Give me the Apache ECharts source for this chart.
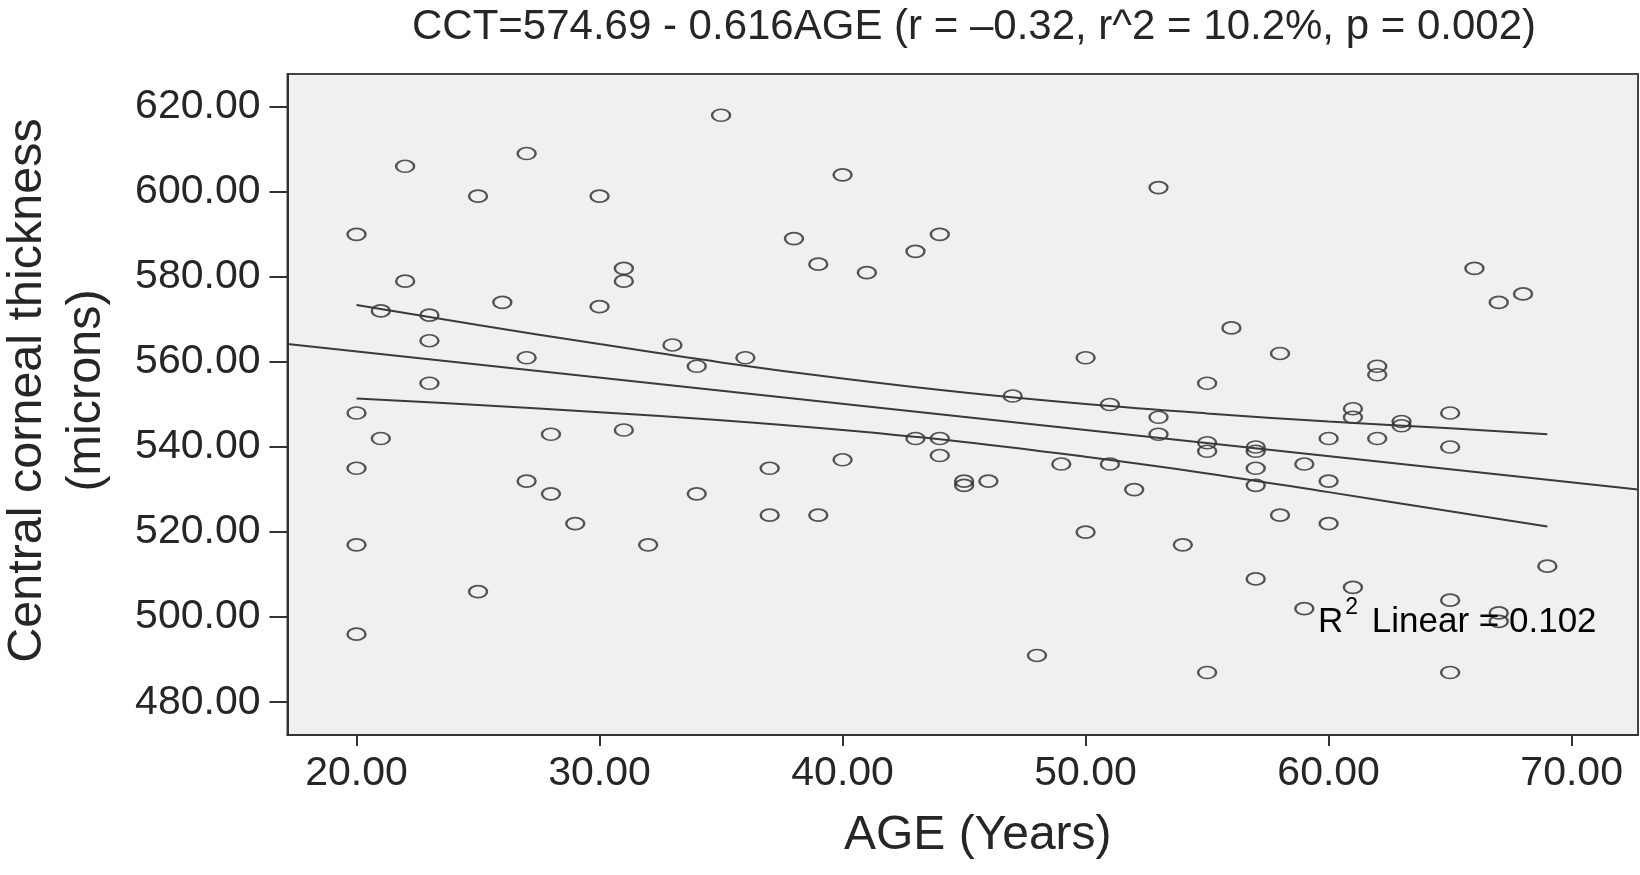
<!DOCTYPE html>
<html>
<head>
<meta charset="utf-8">
<script src="https://cdn.jsdelivr.net/npm/echarts@6/dist/echarts.min.js"></script>
<style>html,body{margin:0;padding:0;background:#fff}#c{width:1640px;height:875px}</style>
</head>
<body>
<div id="c"></div>
<script>
// ---- data ----
const ages = [
  20,20,20,20,20, 21,21, 22,22, 23,23,23, 25,25, 26, 27,27,27, 28,28, 29, 30,30,
  31,31,31, 32, 33, 34,34, 35, 36, 37,37, 38, 39,39, 40,40, 41, 43,43, 44,44,44,
  45,45, 46, 47, 48, 49, 50,50, 51,51, 52, 53,53,53, 54, 55,55,55,55, 56,
  57,57,57,57,57, 58,58, 59,59, 60,60,60, 61,61,61, 62,62,62, 63,63,
  65,65,65,65, 66, 67,67,67, 68, 69
];
const cct = [
  590,548,535,517,496, 572,542, 606,579, 571,565,555, 599,506, 574, 609,561,532, 543,529, 522, 599,573,
  582,579,544, 517, 564, 559,529, 618, 561, 535,524, 589, 583,524, 604,537, 581, 586,542, 590,542,538,
  532,531, 532, 552, 491, 536, 561,520, 550,536, 530, 601,547,543, 517, 555,541,539,487, 568,
  540,539,535,531,509, 562,524, 536,502, 542,532,522, 549,547,507, 559,557,542, 546,545,
  548,540,504,487, 582, 574,501,499, 576, 512
];
const fitX = [17.16, 72.73];
const fitY = [564.2, 530.0];
const bandX = [20, 25, 30, 35, 40, 45, 50, 55, 60, 65, 69];
const bandUpper = [573.4, 568.7, 564.2, 559.9, 556.1, 552.8, 550.1, 547.9, 546.0, 544.4, 543.0];
const bandLower = [551.4, 549.9, 548.2, 546.3, 544.0, 541.2, 537.7, 533.8, 529.4, 524.9, 521.3];
const xTicks = [20, 30, 40, 50, 60, 70];
const yTicks = [480, 500, 520, 540, 560, 580, 600, 620];
const titleText = 'CCT=574.69 - 0.616AGE (r = \u20130.32, r^2 = 10.2%, p = 0.002)';
const xName = 'AGE (Years)';
const yName = 'Central corneal thickness\n(microns)';

// ---- chart ----
const FONT = '"Liberation Sans", Arial, sans-serif';
const INK = '#262626';
const chart = echarts.init(document.getElementById('c'), null, {renderer: 'canvas'});
const pts = ages.map((a, i) => [a, cct[i]]);
const line = (xs, ys) => xs.map((x, i) => [x, ys[i]]);

chart.setOption({
  backgroundColor: '#ffffff',
  animation: false,
  title: {
    text: titleText,
    left: 969, top: 1, textAlign: 'center',
    textStyle: {fontFamily: FONT, fontSize: 42, fontWeight: 'normal', color: INK}
  },
  grid: {
    left: 287.5, right: 2, top: 74, bottom: 140,
    containLabel: false, outerBoundsMode: 'none',
    show: true, backgroundColor: '#f0f0f0', borderColor: '#444', borderWidth: 2
  },
  xAxis: {
    type: 'value', min: 17.16, max: 72.73,
    name: xName, nameLocation: 'middle', nameGap: 77,
    nameTextStyle: {fontFamily: FONT, fontSize: 48, color: INK, padding: [0, 0, 0, 30]},
    axisLine: {show: true, lineStyle: {color: '#333', width: 2}},
    axisTick: {show: true, length: 11, lineStyle: {color: '#333', width: 2}, customValues: xTicks},
    axisLabel: {fontFamily: FONT, fontSize: 41, color: INK, margin: 18, customValues: xTicks,
      formatter: v => Number(v).toFixed(2)},
    splitLine: {show: false}
  },
  yAxis: {
    type: 'value', min: 472.3, max: 627.7,
    name: yName, nameLocation: 'middle', nameGap: 171, nameRotate: 90,
    nameTextStyle: {fontFamily: FONT, fontSize: 48.5, color: INK, lineHeight: 59, padding: [0, 0, 0, 28]},
    axisLine: {show: true, lineStyle: {color: '#333', width: 2}},
    axisTick: {show: true, length: 18, lineStyle: {color: '#333', width: 2}, customValues: yTicks},
    axisLabel: {fontFamily: FONT, fontSize: 41, color: INK, margin: 27, customValues: yTicks,
      formatter: v => Number(v).toFixed(2)},
    splitLine: {show: false}
  },
  series: [
    {
      type: 'line', data: line(fitX, fitY), showSymbol: false, silent: true,
      lineStyle: {color: '#3a3a3a', width: 2}
    },
    {
      type: 'line', data: line(bandX, bandUpper), showSymbol: false, silent: true, smooth: 0.4,
      lineStyle: {color: '#3a3a3a', width: 2}
    },
    {
      type: 'line', data: line(bandX, bandLower), showSymbol: false, silent: true, smooth: 0.4,
      lineStyle: {color: '#3a3a3a', width: 2}
    },
    {
      type: 'scatter', data: pts, symbol: 'circle', symbolSize: [18, 12],
      itemStyle: {color: 'rgba(0,0,0,0)', borderColor: '#2a2a2a', borderWidth: 2}
    }
  ],
  graphic: [{
    type: 'text', left: 1318, top: 596, z: 100,
    style: {
      text: '{a|R}{b|2}{a| Linear = 0.102}',
      rich: {
        a: {fontFamily: FONT, fontSize: 35, color: INK, lineHeight: 44, verticalAlign: 'bottom'},
        b: {fontFamily: FONT, fontSize: 23, color: INK, lineHeight: 44, verticalAlign: 'top', padding: [0, 4, 0, 2]}
      }
    }
  }]
});
</script>
</body>
</html>
